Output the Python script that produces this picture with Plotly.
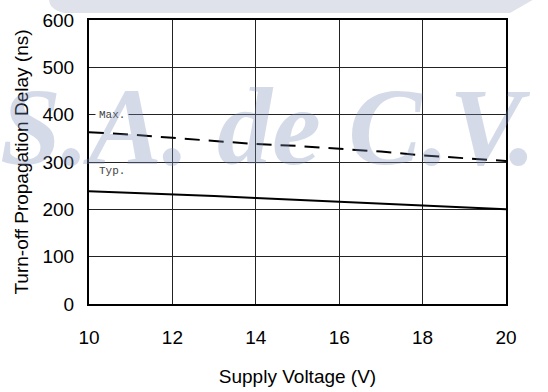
import plotly.graph_objects as go

voltage = [10, 11, 12, 13, 14, 15, 16, 17, 18, 19, 20]
delay_max = [363, 358, 351, 345, 338, 334, 328, 322, 314, 308, 302]
delay_typ = [238, 235, 232, 228, 224, 220, 217, 213, 209, 205, 200]

x_ticks = [10, 12, 14, 16, 18, 20]
y_ticks = [0, 100, 200, 300, 400, 500, 600]

fig = go.Figure()
fig.add_trace(go.Scatter(x=voltage, y=delay_max, mode="lines",
                         line=dict(color="black", width=2, dash="15px,9px"),
                         showlegend=False))
fig.add_trace(go.Scatter(x=voltage, y=delay_typ, mode="lines",
                         line=dict(color="black", width=2),
                         showlegend=False))

label_font = dict(family="Liberation Mono, Courier New, monospace", size=11, color="#444")
fig.add_annotation(x=10.15, y=400, xref="x", yref="y", text="Max.", showarrow=False,
                   xanchor="left", yanchor="middle", font=label_font,
                   bgcolor="white", borderpad=3)
fig.add_annotation(x=10.2, y=280, xref="x", yref="y", text="Typ.", showarrow=False,
                   xanchor="left", yanchor="middle", font=label_font)

# watermark
fig.add_annotation(x=0.43, y=0.625, xref="paper", yref="paper", text="S.A. de C.V.",
                   showarrow=False, xanchor="center", yanchor="middle",
                   font=dict(family="Liberation Serif, Times New Roman, serif", size=110,
                             color="rgba(120,140,185,0.32)", weight="bold", style="italic"))
fig.add_shape(type="path", xref="paper", yref="paper", layer="below",
              path="M -0.095 1.08 L 1.075 1.08 L 1.0096 1.0246 L -0.06 1.0246 Q -0.1 1.04 -0.095 1.08 Z",
              fillcolor="#dfe2ea", line=dict(width=0))

fig.update_layout(
    width=548, height=392,
    margin=dict(l=89, r=42, t=20, b=88),
    paper_bgcolor="white", plot_bgcolor="rgba(0,0,0,0)",
    font=dict(family="Liberation Sans, Arial, sans-serif", size=19, color="black"),
)
fig.update_xaxes(range=[10, 20], tickvals=x_ticks, ticktext=[str(v) for v in x_ticks],
                 showgrid=True, gridcolor="#222", gridwidth=1,
                 showline=True, linecolor="black", linewidth=2, mirror=True,
                 ticks="", ticklabelstandoff=15, zeroline=False, automargin=False,
                 title=dict(text="Supply Voltage (V)", font=dict(size=19), standoff=23))
fig.update_yaxes(range=[0, 600], tickvals=y_ticks, ticktext=[str(v) for v in y_ticks],
                 showgrid=True, gridcolor="#222", gridwidth=1,
                 showline=True, linecolor="black", linewidth=2, mirror=True,
                 ticks="", ticklabelstandoff=9, zeroline=False, automargin=False,
                 title=dict(text="Turn-off Propagation Delay (ns)", font=dict(size=19), standoff=9))

fig.write_html("out.html")
